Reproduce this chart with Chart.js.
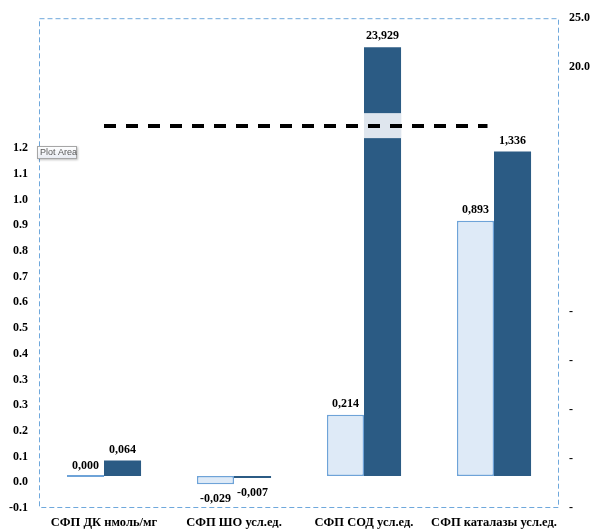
<!DOCTYPE html>
<html>
<head>
<meta charset="utf-8">
<script src="https://cdn.jsdelivr.net/npm/chart.js@4.4.0/dist/chart.umd.min.js"></script>
<style>
  body { margin: 0; background: #fff; }
  canvas { display: block; }
</style>
</head>
<body>
<canvas id="myChart" width="595" height="530"></canvas>
<script>
// data
let categories = ["СФП ДК нмоль/мг", "СФП ШО усл.ед.", "СФП СОД усл.ед.", "СФП каталазы усл.ед."];
let lightValues = [0.000, -0.029, 0.214, 0.893];
let darkValues = [0.064, -0.007, 23.929, 1.336];
// axis labels as printed (0.3 shows up twice)
let leftTickValues = [-0.1, 0.0, 0.1, 0.2, 0.3, 0.4, 0.5, 0.6, 0.7, 0.8, 0.9, 1.0, 1.1, 1.2, 1.3];
let leftTickLabels = ["-0.1", "0.0", "0.1", "0.2", "0.3", "0.3", "0.4", "0.5", "0.6", "0.7", "0.8", "0.9", "1.0", "1.1", "1.2"];
let rightTickValues = [25, 20, 15, 10, 5, 0, -5, -10, -15, -20, -25];
let rightTickLabels = ["25.0", "20.0", "", "", "", "", "-", "-", "-", "-", "-"];

// the tall bar goes through an axis break
const breakLow = 1.391;
const breakHigh = 1.494;
const upperFrom = 20;
const upperScale = 0.069;

function toBroken(v) {
  return v > breakLow ? breakHigh + (v - upperFrom) * upperScale : v;
}

function fmt(v) {
  return v.toFixed(3).replace(".", ",");
}

const serif = "'Liberation Serif', 'Times New Roman', serif";

let plotFrame = {
  id: "plotFrame",
  beforeDatasetsDraw(chart) {
    const a = chart.chartArea;
    const ctx = chart.ctx;
    ctx.save();
    ctx.strokeStyle = "#6fa8dc";
    ctx.lineWidth = 1;
    ctx.setLineDash([5, 3]);
    ctx.strokeRect(a.left + 0.5, a.top + 0.5, a.right - a.left - 1, a.bottom - a.top - 1);
    ctx.restore();
  }
};

let breakMarks = {
  id: "breakMarks",
  afterDatasetsDraw(chart) {
    const ctx = chart.ctx;
    const yD = chart.scales.yD;
    const x = chart.scales.x;
    const meta = chart.getDatasetMeta(1);
    ctx.save();
    ctx.fillStyle = "#dfe6ee";
    meta.data.forEach(function(el, i) {
      if (darkValues[i] > breakLow) {
        const top = yD.getPixelForValue(breakHigh);
        const bottom = yD.getPixelForValue(breakLow);
        ctx.fillRect(el.x - el.width / 2, top, el.width, bottom - top);
      }
    });
    // dashed break line
    const yLine = Math.round(yD.getPixelForValue((breakLow + breakHigh) / 2));
    ctx.strokeStyle = "#000";
    ctx.lineWidth = 4;
    ctx.setLineDash([12, 10]);
    ctx.beginPath();
    ctx.moveTo(x.getPixelForValue(0), yLine);
    ctx.lineTo(x.getPixelForValue(2.95), yLine);
    ctx.stroke();
    ctx.restore();
  }
};

let valueLabels = {
  id: "valueLabels",
  afterDatasetsDraw(chart) {
    const ctx = chart.ctx;
    const sources = [lightValues, darkValues];
    ctx.save();
    ctx.font = "bold 12px " + serif;
    ctx.fillStyle = "#000";
    ctx.textAlign = "center";
    ctx.textBaseline = "middle";
    sources.forEach(function(values, d) {
      chart.getDatasetMeta(d).data.forEach(function(el, i) {
        const v = values[i];
        const y = v < 0 ? el.y + 15 : el.y - 11;
        ctx.fillText(fmt(v), el.x, y);
      });
    });
    ctx.restore();
  }
};

// the little "Plot Area" hint box
let hintBox = {
  id: "hintBox",
  afterDraw(chart) {
    const ctx = chart.ctx;
    const bx = 37, by = 146, bw = 40, bh = 13;
    ctx.save();
    ctx.shadowColor = "rgba(0,0,0,0.25)";
    ctx.shadowOffsetX = 1;
    ctx.shadowOffsetY = 1;
    ctx.shadowBlur = 2;
    let g = ctx.createLinearGradient(0, by, 0, by + bh);
    g.addColorStop(0, "#ffffff");
    g.addColorStop(1, "#e8ebf2");
    ctx.fillStyle = g;
    ctx.fillRect(bx, by, bw, bh);
    ctx.shadowColor = "transparent";
    ctx.strokeStyle = "#a6a6a6";
    ctx.lineWidth = 1;
    ctx.strokeRect(bx + 0.5, by + 0.5, bw - 1, bh - 1);
    ctx.fillStyle = "#595959";
    ctx.font = "9px 'Liberation Sans', Arial, sans-serif";
    ctx.textAlign = "left";
    ctx.textBaseline = "middle";
    ctx.fillText("Plot Area", bx + 3, by + bh / 2 + 0.5);
    ctx.restore();
  }
};

let ctx = document.getElementById("myChart").getContext("2d");
let chart = new Chart(ctx, {
  type: "bar",
  data: {
    labels: categories,
    datasets: [
      {
        label: "light",
        data: lightValues,
        yAxisID: "yL",
        backgroundColor: "#deeaf7",
        borderColor: "#6ea3d8",
        borderWidth: 1.5,
        borderSkipped: false,
        minBarLength: 2
      },
      {
        label: "dark",
        data: darkValues.map(toBroken),
        yAxisID: "yD",
        backgroundColor: "#2b5b84",
        borderWidth: 0,
        minBarLength: 2
      }
    ]
  },
  options: {
    responsive: false,
    animation: false,
    events: [],
    layout: { padding: { top: 18, left: 0, right: 0, bottom: 0 } },
    datasets: {
      bar: { categoryPercentage: 0.57, barPercentage: 1.0 }
    },
    plugins: {
      legend: { display: false },
      tooltip: { enabled: false }
    },
    scales: {
      x: {
        grid: { display: false, drawTicks: false },
        border: { display: false },
        ticks: {
          font: { family: serif, size: 12.5, weight: "bold" },
          color: "#000",
          padding: 7,
          maxRotation: 0,
          autoSkip: false
        },
        afterFit(scale) { scale.height = 22; }
      },
      y: {
        position: "left",
        min: -0.1,
        max: 1.8056,
        grid: { display: false, drawTicks: false },
        border: { display: false },
        afterBuildTicks(scale) {
          scale.ticks = leftTickValues.map(v => ({ value: v }));
        },
        ticks: {
          font: { family: serif, size: 12, weight: "bold" },
          color: "#000",
          padding: 11,
          autoSkip: false,
          callback: function(value, index) { return leftTickLabels[index]; }
        },
        afterFit(scale) { scale.width = 39; }
      },
      yR: {
        position: "right",
        min: -25,
        max: 25,
        grid: { display: false, drawTicks: false },
        border: { display: false },
        afterBuildTicks(scale) {
          scale.ticks = rightTickValues.map(v => ({ value: v }));
        },
        ticks: {
          font: { family: serif, size: 12, weight: "bold" },
          color: "#000",
          padding: 10,
          autoSkip: false,
          callback: function(value, index) { return rightTickLabels[index]; }
        },
        afterFit(scale) { scale.width = 36; }
      },
      // hidden value axes for the two series
      yL: { display: false, min: -0.1119, max: 1.6014 },
      yD: { display: false, min: -0.1317, max: 1.8848 }
    }
  },
  plugins: [plotFrame, breakMarks, valueLabels, hintBox]
});
</script>
</body>
</html>
